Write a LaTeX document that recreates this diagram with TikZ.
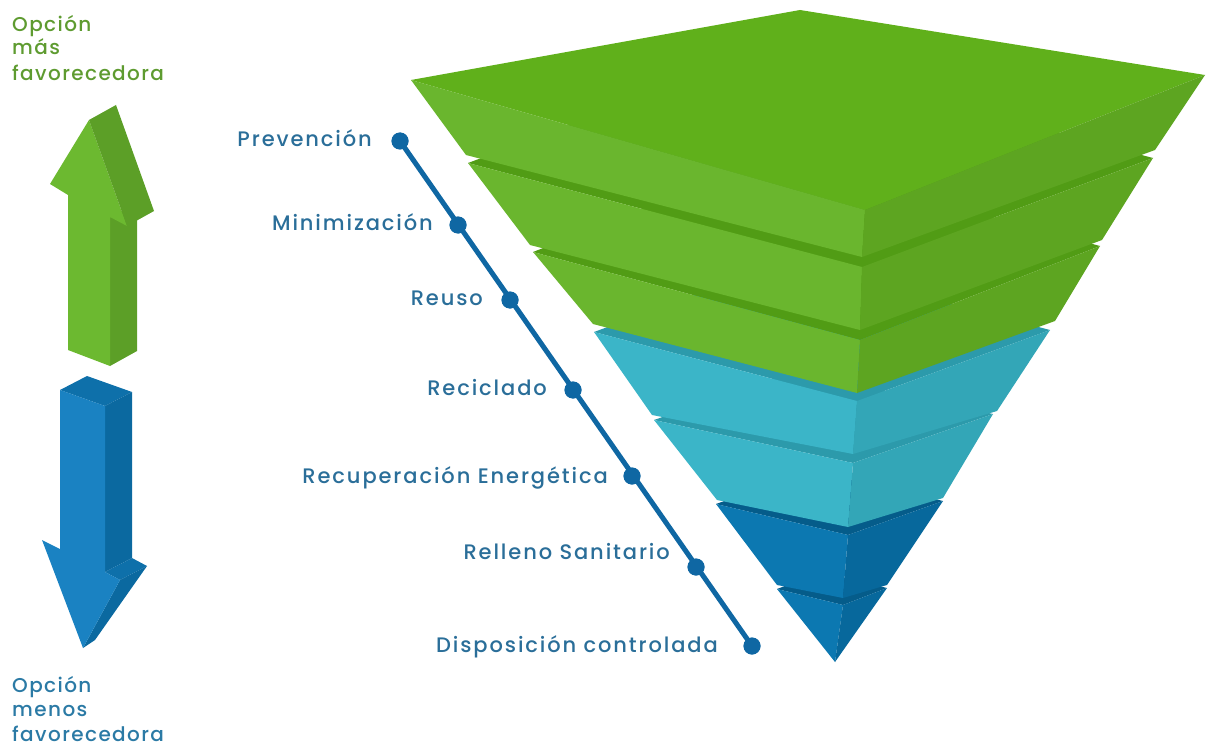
\documentclass[tikz,border=0pt]{standalone}
\usepackage{fontspec}
\setmainfont{Poppins}[UprightFont={* Medium}]
\newfontfamily\lblfont{Poppins}[UprightFont={* Medium},LetterSpace=7]
\newfontfamily\lblfontw{Poppins}[UprightFont={* Medium},LetterSpace=9]
\usetikzlibrary{calc}
\definecolor{gtop}{HTML}{60B01B}
\definecolor{gleft}{HTML}{6AB62E}
\definecolor{gright}{HTML}{5DA521}
\definecolor{gstrip}{HTML}{519C15}
\definecolor{cleft}{HTML}{3BB5C8}
\definecolor{cright}{HTML}{33A6B7}
\definecolor{cstrip}{HTML}{2C9AAB}
\definecolor{bleft}{HTML}{0C78B1}
\definecolor{bright}{HTML}{07689C}
\definecolor{bstrip}{HTML}{055C8A}
\definecolor{lineblue}{HTML}{0F67A3}
\definecolor{lblblue}{HTML}{2A6E99}
\definecolor{lblblueb}{HTML}{2B7AA5}
\definecolor{lblgreen}{HTML}{5E9B30}
\definecolor{agfront}{HTML}{6CB930}
\definecolor{agside}{HTML}{5C9F27}
\definecolor{abfront}{HTML}{1A82C2}
\definecolor{abside}{HTML}{0B69A0}
\definecolor{abtop}{HTML}{0E70AA}
\begin{document}
\begin{tikzpicture}[x=1pt,y=-1pt,
  lbl/.style={text=lblblue, font=\lblfontw\fontsize{21}{25}\selectfont, inner sep=0pt, anchor=base east},
  sidelbl/.style={font=\lblfont\fontsize{20}{24}\selectfont, inner sep=0pt, anchor=base west},
  dotnode/.style={circle, fill=lineblue, minimum size=17pt, inner sep=0pt},
  link/.style={draw=lineblue, line width=5pt}]
\useasboundingbox (0,0) rectangle (1206,746);

% ---------- pyramid corners ----------
\coordinate (L0) at (411,80);  \coordinate (T0) at (800,10);
\coordinate (R0) at (1205,75); \coordinate (F0) at (865,210);
\coordinate (Lb1) at (466,155); \coordinate (Fb1) at (862,257); \coordinate (Rb1) at (1155,150);
\coordinate (Lt2) at (468,163); \coordinate (Ft2) at (862,267); \coordinate (Rt2) at (1153,158);
\coordinate (Lb2) at (530,245); \coordinate (Fb2) at (860,330); \coordinate (Rb2) at (1102,240);
\coordinate (Lt3) at (533,252); \coordinate (Ft3) at (860,340); \coordinate (Rt3) at (1100,246);
\coordinate (Lb3) at (593,324); \coordinate (Fb3) at (857,393); \coordinate (Rb3) at (1055,321);
\coordinate (Lt4) at (594,332); \coordinate (Ft4) at (857,401); \coordinate (Rt4) at (1050,330);
\coordinate (Lb4) at (652,415); \coordinate (Fb4) at (853,454); \coordinate (Rb4) at (997,411);
\coordinate (Lt5) at (654,420); \coordinate (Ft5) at (853,463); \coordinate (Rt5) at (993,414);
\coordinate (Lb5) at (717,500); \coordinate (Fb5) at (848,527); \coordinate (Rb5) at (943,498);
\coordinate (Lt6) at (716,504); \coordinate (Ft6) at (848,535); \coordinate (Rt6) at (943,501);
\coordinate (Lb6) at (777,585); \coordinate (Fb6) at (843,598); \coordinate (Rb6) at (887,585);
\coordinate (Lt7) at (777,589); \coordinate (Ft7) at (843,605); \coordinate (Rt7) at (887,588);
\coordinate (A) at (835,662);

% layer 7
\fill[bstrip] (Lt7) -- ($(Lt7)+(Rt7)-(Ft7)$) -- (Rt7) -- (Ft7) -- cycle;
\fill[bleft] (Lt7) -- (Ft7) -- (A) -- cycle;
\fill[bright] (Ft7) -- (Rt7) -- (A) -- cycle;
% layer 6
\fill[bstrip] (Lt6) -- ($(Lt6)+(Rt6)-(Ft6)$) -- (Rt6) -- (Ft6) -- cycle;
\fill[bleft] (Lt6) -- (Ft6) -- (Fb6) -- (Lb6) -- cycle;
\fill[bright] (Ft6) -- (Rt6) -- (Rb6) -- (Fb6) -- cycle;
% layer 5
\fill[cstrip] (Lt5) -- ($(Lt5)+(Rt5)-(Ft5)$) -- (Rt5) -- (Ft5) -- cycle;
\fill[cleft] (Lt5) -- (Ft5) -- (Fb5) -- (Lb5) -- cycle;
\fill[cright] (Ft5) -- (Rt5) -- (Rb5) -- (Fb5) -- cycle;
% layer 4
\fill[cstrip] (Lt4) -- ($(Lt4)+(Rt4)-(Ft4)$) -- (Rt4) -- (Ft4) -- cycle;
\fill[cleft] (Lt4) -- (Ft4) -- (Fb4) -- (Lb4) -- cycle;
\fill[cright] (Ft4) -- (Rt4) -- (Rb4) -- (Fb4) -- cycle;
% layer 3
\fill[gstrip] (Lt3) -- ($(Lt3)+(Rt3)-(Ft3)$) -- (Rt3) -- (Ft3) -- cycle;
\fill[gleft] (Lt3) -- (Ft3) -- (Fb3) -- (Lb3) -- cycle;
\fill[gright] (Ft3) -- (Rt3) -- (Rb3) -- (Fb3) -- cycle;
% layer 2
\fill[gstrip] (Lt2) -- ($(Lt2)+(Rt2)-(Ft2)$) -- (Rt2) -- (Ft2) -- cycle;
\fill[gleft] (Lt2) -- (Ft2) -- (Fb2) -- (Lb2) -- cycle;
\fill[gright] (Ft2) -- (Rt2) -- (Rb2) -- (Fb2) -- cycle;
% layer 1
\fill[gtop] (L0) -- (T0) -- (R0) -- (F0) -- cycle;
\fill[gleft] (L0) -- (F0) -- (Fb1) -- (Lb1) -- cycle;
\fill[gright] (F0) -- (R0) -- (Rb1) -- (Fb1) -- cycle;

% ---------- green up arrow ----------
\coordinate (gT) at (89,120);  \coordinate (gHR) at (127,226); \coordinate (gSR) at (110,217);
\coordinate (gSRb) at (110,366); \coordinate (gSLb) at (68,350); \coordinate (gSL) at (68,195);
\coordinate (gHL) at (50,184); \coordinate (gv) at (27,-15);
\fill[agside] (gSR) -- ($(gSR)+(gv)$) -- ($(gSRb)+(gv)$) -- (gSRb) -- cycle;
\fill[agfront] (gT) -- (gHR) -- (gSR) -- (gSRb) -- (gSLb) -- (gSL) -- (gHL) -- cycle;
\fill[agside] (gT) -- ($(gT)+(gv)$) -- ($(gHR)+(gv)$) -- (gHR) -- cycle;

% ---------- blue down arrow ----------
\coordinate (bFL) at (60,390); \coordinate (bFR) at (105,406); \coordinate (bv) at (27,-14);
\coordinate (bSRb) at (105,572); \coordinate (bHR) at (120,580); \coordinate (bT) at (83,648);
\coordinate (bHL) at (42,540); \coordinate (bSLb) at (60,549);
\fill[abtop] (bFL) -- (bFR) -- ($(bFR)+(bv)$) -- ($(bFL)+(bv)$) -- cycle;
\fill[abside] (bFR) -- ($(bFR)+(bv)$) -- ($(bSRb)+(bv)$) -- (bSRb) -- cycle;
\fill[abtop] (bSRb) -- ($(bSRb)+(bv)$) -- ($(bHR)+(bv)$) -- (bHR) -- cycle;
\fill[abside] (bHR) -- ($(bHR)+(bv)$) -- (95,640) -- (bT) -- cycle;
\fill[abfront] (bFL) -- (bFR) -- (bSRb) -- (bHR) -- (bT) -- (bHL) -- (bSLb) -- cycle;

% ---------- side texts ----------
\node[sidelbl, text=lblgreen] (gt1) at (12,32) {Opción};
\node[sidelbl, text=lblgreen] (gt2) at (12,55) {más};
\node[sidelbl, text=lblgreen] (gt3) at (12,81) {favorecedora};
\node[sidelbl, text=lblblueb] (bt1) at (12,692) {Opción};
\node[sidelbl, text=lblblueb] (bt2) at (12,716) {menos};
\node[sidelbl, text=lblblueb] (bt3) at (12,741) {favorecedora};

% ---------- timeline ----------
\node[dotnode] (p1) at (400,141) {};
\node[dotnode] (p2) at (458,225) {};
\node[dotnode] (p3) at (510,300) {};
\node[dotnode] (p4) at (573,390) {};
\node[dotnode] (p5) at (632,476) {};
\node[dotnode] (p6) at (696,567) {};
\node[dotnode] (p7) at (752,646) {};
\draw[link] (p1.center) -- (p7.center);
\foreach \p in {p1,p2,p3,p4,p5,p6,p7} \fill[lineblue] (\p) circle (8.5);

\node[lbl] (l1) at (372,147) {Prevención};
\node[lbl] (l2) at (433,230) {Minimización};
\node[lbl] (l3) at (483,305) {Reuso};
\node[lbl] (l4) at (547,395) {Reciclado};
\node[lbl] (l5) at (608,483) {Recuperación Energética};
\node[lbl] (l6) at (670,559) {Relleno Sanitario};
\node[lbl] (l7) at (718,652) {Disposición controlada};
\end{tikzpicture}
\end{document}
